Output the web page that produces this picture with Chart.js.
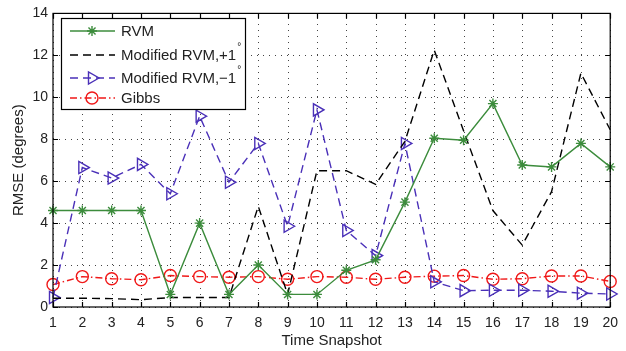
<!DOCTYPE html>
<html>
<head>
<meta charset="utf-8">
<script src="https://cdn.jsdelivr.net/npm/chart.js@4/dist/chart.umd.min.js"></script>
<style>
    html, body { margin: 0; padding: 0; background: #fff; }
    #wrap { width: 626px; height: 351px; }
</style>
</head>
<body>
<div id="wrap"><canvas id="rmseChart" width="626" height="351"></canvas></div>
<script>
// values
const snapshots = ['1', '2', '3', '4', '5', '6', '7', '8', '9', '10',
                   '11', '12', '13', '14', '15', '16', '17', '18', '19', '20'];
const rvm = [4.6, 4.6, 4.6, 4.6, 0.6, 4.0, 0.6, 2.0, 0.6, 0.6,
             1.75, 2.25, 5.0, 8.05, 7.95, 9.7, 6.77, 6.68, 7.8, 6.68];
const modPlus = [0.42, 0.42, 0.4, 0.35, 0.45, 0.45, 0.45, 4.8, 0.6, 6.5,
                 6.5, 5.85, 7.9, 12.25, 8.4, 4.6, 2.95, 5.5, 11.15, 8.45];
const modMinus = [0.45, 6.65, 6.15, 6.8, 5.4, 9.1, 5.95, 7.8, 3.85, 9.4,
                  3.65, 2.45, 7.8, 1.2, 0.78, 0.8, 0.8, 0.75, 0.66, 0.62];
const gibbs = [1.07, 1.45, 1.35, 1.3, 1.5, 1.45, 1.42, 1.45, 1.32, 1.45,
               1.42, 1.32, 1.42, 1.47, 1.5, 1.32, 1.35, 1.48, 1.48, 1.22];
const yMin = 0, yMax = 14, yStep = 2;

const GREEN = '#3c8c3c';
const BLUE = '#4a30b8';
const RED = '#f01818';
const FONT = '"Liberation Sans", Arial, sans-serif';

const chartArea = { left: 53, right: 619, top: 11, bottom: 307 };

// dotted grid, drawn under the lines
const gridPlugin = {
    id: 'dottedGrid',
    beforeDatasetsDraw(chart) {
        const ctx = chart.ctx;
        const a = chart.chartArea;
        const xs = chart.scales.x, ys = chart.scales.y;
        ctx.save();
        ctx.strokeStyle = '#444';
        ctx.lineWidth = 1;
        ctx.setLineDash([1, 5]);
        ctx.beginPath();
        xs.ticks.forEach((t, i) => {
            const px = Math.round(xs.getPixelForTick(i)) + 0.5;
            ctx.moveTo(px, a.bottom);
            ctx.lineTo(px, a.top);
        });
        ys.ticks.forEach(t => {
            const py = Math.round(ys.getPixelForValue(t.value)) + 0.5;
            ctx.moveTo(a.left, py);
            ctx.lineTo(a.right, py);
        });
        ctx.stroke();
        ctx.restore();
    }
};

// MATLAB style box with inward ticks on all four sides
const boxPlugin = {
    id: 'matlabBox',
    afterDraw(chart) {
        const ctx = chart.ctx;
        const a = chart.chartArea;
        const xs = chart.scales.x, ys = chart.scales.y;
        ctx.save();
        ctx.strokeStyle = '#000';
        ctx.lineWidth = 1.2;
        ctx.setLineDash([]);
        ctx.beginPath();
        xs.ticks.forEach((t, i) => {
            const px = Math.round(xs.getPixelForTick(i)) + 0.5;
            ctx.moveTo(px, a.bottom); ctx.lineTo(px, a.bottom - 5);
            ctx.moveTo(px, a.top); ctx.lineTo(px, a.top + 5);
        });
        ys.ticks.forEach(t => {
            const py = Math.round(ys.getPixelForValue(t.value)) + 0.5;
            ctx.moveTo(a.left, py); ctx.lineTo(a.left + 5, py);
            ctx.moveTo(a.right, py); ctx.lineTo(a.right - 5, py);
        });
        ctx.stroke();
        ctx.strokeRect(a.left, a.top, a.right - a.left, a.bottom - a.top);
        ctx.restore();
    }
};

// legend drawn inside the plot, top left
const legendPlugin = {
    id: 'insideLegend',
    afterDatasetsDraw(chart) {
        const ctx = chart.ctx;
        const bx = 61, by = 18, bw = 184, bh = 91;
        const rows = [31, 55, 78, 98];
        ctx.save();
        ctx.fillStyle = '#fff';
        ctx.fillRect(bx, by, bw, bh);
        ctx.strokeStyle = '#000';
        ctx.lineWidth = 1.2;
        ctx.strokeRect(bx + 0.5, by + 0.5, bw, bh);
        chart.data.datasets.forEach((ds, i) => {
            const y = rows[i];
            ctx.strokeStyle = ds.borderColor;
            ctx.lineWidth = ds.borderWidth;
            ctx.setLineDash(ds.borderDash || []);
            ctx.beginPath();
            ctx.moveTo(70, y);
            ctx.lineTo(115, y);
            ctx.stroke();
            ctx.setLineDash([]);
            if (ds.pointRadius > 0) {
                ctx.fillStyle = 'rgba(255,255,255,0)';
                ctx.strokeStyle = ds.pointBorderColor;
                ctx.lineWidth = ds.pointBorderWidth;
                Chart.helpers.drawPoint(ctx, {
                    pointStyle: ds.pointStyle,
                    rotation: ds.pointRotation || 0,
                    radius: ds.pointRadius,
                    borderWidth: ds.pointBorderWidth
                }, 92, y);
            }
            ctx.fillStyle = '#222';
            ctx.font = '15px ' + FONT;
            ctx.textBaseline = 'middle';
            ctx.fillText(ds.label, 121, y + 1);
            if (ds.sup) {
                const w = ctx.measureText(ds.label).width;
                ctx.font = '10px ' + FONT;
                ctx.fillText(ds.sup, 121 + w + 1, y - 8);
            }
        });
        ctx.restore();
    }
};

new Chart(document.getElementById('rmseChart'), {
    type: 'line',
    data: {
        labels: snapshots,
        datasets: [{
            label: 'RVM',
            data: rvm,
            borderColor: GREEN,
            borderWidth: 1.4,
            pointStyle: 'star',
            pointRadius: 5,
            pointBorderWidth: 1.4,
            pointBorderColor: GREEN,
            pointBackgroundColor: 'transparent',
            tension: 0
        }, {
            label: 'Modified RVM,+1',
            sup: '°',
            data: modPlus,
            borderColor: '#000',
            borderWidth: 1.4,
            borderDash: [8, 5],
            pointRadius: 0,
            tension: 0
        }, {
            label: 'Modified RVM,\u22121',
            sup: '°',
            data: modMinus,
            borderColor: BLUE,
            borderWidth: 1.4,
            borderDash: [8, 5],
            pointStyle: 'triangle',
            pointRotation: 90,
            pointRadius: 7,
            pointBorderWidth: 1.4,
            pointBorderColor: BLUE,
            pointBackgroundColor: 'transparent',
            tension: 0
        }, {
            label: 'Gibbs',
            data: gibbs,
            borderColor: RED,
            borderWidth: 1.4,
            borderDash: [7, 3, 1.5, 3],
            pointStyle: 'circle',
            pointRadius: 6,
            pointBorderWidth: 1.4,
            pointBorderColor: RED,
            pointBackgroundColor: 'transparent',
            tension: 0
        }]
    },
    options: {
        responsive: false,
        animation: false,
        layout: { padding: { left: 0, right: 626 - chartArea.right, top: chartArea.top, bottom: 0 } },
        plugins: {
            legend: { display: false },
            tooltip: { enabled: false }
        },
        scales: {
            x: {
                offset: false,
                afterFit: s => { s.height = 351 - chartArea.bottom; },
                grid: { display: false, drawTicks: false },
                border: { display: false },
                ticks: {
                    color: '#222',
                    padding: 8,
                    maxRotation: 0,
                    autoSkip: false,
                    font: { family: FONT, size: 14 }
                },
                title: {
                    display: true,
                    text: 'Time Snapshot',
                    color: '#222',
                    padding: { top: 0, bottom: 1 },
                    font: { family: FONT, size: 15 }
                }
            },
            y: {
                min: yMin,
                max: yMax,
                afterFit: s => { s.width = chartArea.left; },
                grid: { display: false, drawTicks: false },
                border: { display: false },
                ticks: {
                    stepSize: yStep,
                    color: '#222',
                    padding: 5,
                    font: { family: FONT, size: 14 }
                },
                title: {
                    display: true,
                    text: 'RMSE (degrees)',
                    color: '#222',
                    padding: { top: 10, bottom: 0 },
                    font: { family: FONT, size: 15 }
                }
            }
        }
    },
    plugins: [gridPlugin, boxPlugin, legendPlugin]
});
</script>
</body>
</html>
